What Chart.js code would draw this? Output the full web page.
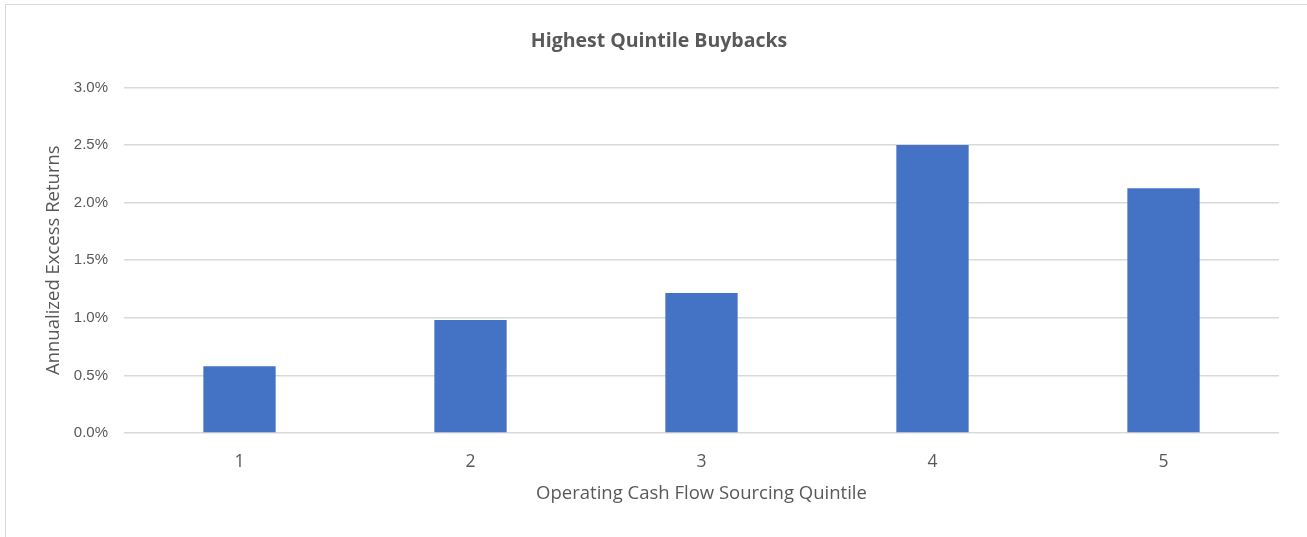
<!DOCTYPE html>
<html>
<head>
<meta charset="utf-8">
<script src="https://cdn.jsdelivr.net/npm/chart.js@4"></script>
<style>
  html, body { margin: 0; padding: 0; background: #fff; }
  #wrap { position: relative; width: 1307px; height: 537px; overflow: hidden; }
  #frame { position: absolute; left: 5px; top: 4px; width: 1400px; height: 600px; border-left: 1px solid #d9d9d9; border-top: 1px solid #d9d9d9; box-sizing: border-box; }
  canvas { position: absolute; left: 0; top: 0; }
</style>
</head>
<body>
<div id="wrap">
  <div id="frame"></div>
  <canvas id="c" width="1307" height="537"></canvas>
</div>
<script>
const chartTitle = "Highest Quintile Buybacks";
const categories = ["1", "2", "3", "4", "5"];
const excessReturns = [0.0058, 0.0098, 0.01215, 0.0250, 0.02125];
const yTickValues = [0, 0.005, 0.01, 0.015, 0.02, 0.025, 0.03];
const xAxisTitle = "Operating Cash Flow Sourcing Quintile";
const yAxisTitle = "Annualized Excess Returns";

const txt = '#595959';
new Chart(document.getElementById('c'), {
  type: 'bar',
  data: {
    labels: categories,
    datasets: [{
      data: excessReturns,
      backgroundColor: '#4472c4',
      borderWidth: 0,
      categoryPercentage: 1,
      barPercentage: 0.313
    }]
  },
  options: {
    responsive: false,
    animation: false,
    events: [],
    layout: { padding: { left: 11, right: 0, top: 0, bottom: 0 } },
    plugins: {
      legend: { display: false },
      tooltip: { enabled: false },
      title: {
        display: true,
        text: chartTitle,
        color: txt,
        font: { family: 'Open Sans', size: 19.5, weight: 'bold' },
        padding: { top: 30, bottom: 34 }
      }
    },
    scales: {
      x: {
        grid: { display: false, drawTicks: false },
        border: { display: false },
        ticks: { color: txt, font: { family: 'Open Sans', size: 17.5 }, padding: 18.5 },
        title: { display: true, text: xAxisTitle, color: txt, font: { family: 'Open Sans', size: 18.5 }, padding: { top: 4, bottom: 32 } },
        afterFit: s => { s.height = 104; }
      },
      y: {
        min: 0, max: 0.03,
        afterBuildTicks: s => { s.ticks = yTickValues.map(v => ({ value: v })); },
        grid: { color: '#d9d9d9', lineWidth: 1.5, drawTicks: false },
        border: { display: false },
        ticks: {
          color: txt, font: { family: 'Liberation Sans', size: 15 }, padding: 16,
          callback: v => (v * 100).toFixed(1) + '%'
        },
        title: { display: true, text: yAxisTitle, color: txt, font: { family: 'Open Sans', size: 18.5 }, padding: { top: 32, bottom: 0 } },
        afterFit: s => { s.width = 113; }
      },
      ySpacer: {
        position: 'right',
        display: true,
        grid: { display: false, drawTicks: false },
        border: { display: false },
        ticks: { display: false },
        afterFit: s => { s.width = 28; }
      }
    }
  }
});
</script>
</body>
</html>
